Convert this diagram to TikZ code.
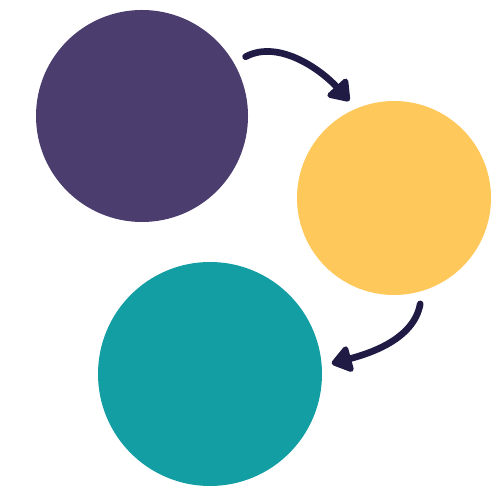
\documentclass[tikz,border=0pt]{standalone}
\usetikzlibrary{arrows.meta}

\definecolor{plum}{HTML}{4B3D6E}
\definecolor{sun}{HTML}{FFC85A}
\definecolor{teal}{HTML}{139EA3}
\definecolor{ink}{HTML}{1F1B45}

\begin{document}
\begin{tikzpicture}[
    blob/.style={circle, fill=#1, draw=none, inner sep=0pt},
    cycle arrow/.style={line width=3.8pt, ink, line cap=round,
        -{Triangle[round, length=0.44cm, width=0.6cm]},
        shorten <=0.26cm, shorten >=0.2cm}
]

\useasboundingbox (0,0) rectangle (10,10);

% Circles
\node[blob=plum, minimum size=4.24cm] (first) at (2.84,7.68) {};
\node[blob=sun, minimum size=3.88cm] (second) at (7.88,6.04) {};
\node[blob=teal, minimum size=4.48cm] (third) at (4.2,2.52) {};

% Arrows
\draw[cycle arrow] (first.30) to[out=28, in=132] (second.113);
\draw[cycle arrow] (second.-73) to[out=-100, in=15] (third.4);

\end{tikzpicture}
\end{document}
